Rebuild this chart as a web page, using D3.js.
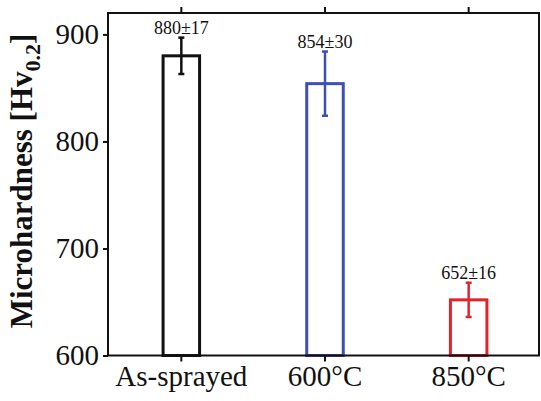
<!DOCTYPE html>
<meta charset="utf-8">
<style>
html, body {
  margin: 0;
  background: #fff;
}

text {
  font-family: "Liberation Serif", "Times New Roman", serif;
}

.axis path {
  display: none;
}

.axis line {
  stroke: #111;
  stroke-width: 2px;
}

.axis text {
  font-size: 29px;
  fill: #111;
}

.frame {
  fill: none;
  stroke: #111;
  stroke-width: 2px;
}

.bar {
  fill: #fff;
  stroke-width: 3px;
}

.err {
  stroke-width: 2.5px;
}
</style>

<svg></svg>

<script src="https://d3js.org/d3.v7.min.js"></script>
<script>

// values
var categories = ['As-sprayed', '600°C', '850°C'];
var means = [880, 854, 652];
var errors = [17, 30, 16];
var yTicks = [600, 700, 800, 900];
var barColors = ['#111111', '#3d4fb3', '#e3232b'];

var width = 541, height = 401;
var plot = {left: 108, right: 539, top: 13, bottom: 355.5};

var svg = d3.select('svg')
  .attr('width', width)
  .attr('height', height);

var x = d3.scaleBand()
  .domain(categories)
  .range([plot.left + 1.5, plot.right + 1.5]);

var y = d3.scaleLinear()
  .domain([600, 920])
  .range([plot.bottom, plot.top]);

var rows = categories.map(function (c, i) {
  return {cat: c, mean: means[i], err: errors[i], color: barColors[i]};
});

var barW = 36.5;
var capW = 6;

// bars
svg.append('g')
  .selectAll('rect').data(rows)
  .enter().append('rect')
  .attr('class', 'bar')
  .attr('x', function (d) { return x(d.cat) + x.bandwidth() / 2 - barW / 2; })
  .attr('y', function (d) { return y(d.mean); })
  .attr('width', barW)
  .attr('height', function (d) { return y(600) - y(d.mean); })
  .attr('stroke', function (d) { return d.color; });

// error bars
var eb = svg.append('g')
  .selectAll('g').data(rows)
  .enter().append('g')
  .attr('class', 'err')
  .attr('stroke', function (d) { return d.color; });

eb.append('line')
  .attr('x1', function (d) { return x(d.cat) + x.bandwidth() / 2; })
  .attr('x2', function (d) { return x(d.cat) + x.bandwidth() / 2; })
  .attr('y1', function (d) { return y(d.mean - d.err); })
  .attr('y2', function (d) { return y(d.mean + d.err); });

[-1, 1].forEach(function (s) {
  eb.append('line')
    .attr('x1', function (d) { return x(d.cat) + x.bandwidth() / 2 - capW / 2; })
    .attr('x2', function (d) { return x(d.cat) + x.bandwidth() / 2 + capW / 2; })
    .attr('y1', function (d) { return y(d.mean + s * d.err); })
    .attr('y2', function (d) { return y(d.mean + s * d.err); });
});

// value labels
svg.append('g')
  .selectAll('text').data(rows)
  .enter().append('text')
  .attr('x', function (d) { return x(d.cat) + x.bandwidth() / 2; })
  .attr('y', function (d) { return y(d.mean + d.err) - 3.5; })
  .attr('text-anchor', 'middle')
  .style('font-size', '18px')
  .attr('fill', '#111')
  .text(function (d) { return d.mean + '±' + d.err; });

// frame
svg.append('rect')
  .attr('class', 'frame')
  .attr('x', plot.left)
  .attr('y', plot.top)
  .attr('width', plot.right - plot.left)
  .attr('height', plot.bottom - plot.top);

// axes
svg.append('g')
  .attr('class', 'axis')
  .attr('transform', 'translate(' + plot.left + ',0)')
  .call(d3.axisLeft(y).tickValues(yTicks).tickSize(5).tickPadding(4));

svg.append('g')
  .attr('class', 'axis')
  .attr('transform', 'translate(0,' + plot.bottom + ')')
  .call(d3.axisBottom(x).tickSize(6).tickPadding(4));

svg.append('g')
  .attr('class', 'axis')
  .attr('transform', 'translate(0,' + plot.top + ')')
  .call(d3.axisTop(x).tickSize(6).tickFormat(''));

// y title with subscript
var title = svg.append('text')
  .attr('transform', 'translate(32,181) rotate(-90)')
  .attr('text-anchor', 'middle')
  .style('font-size', '31px')
  .style('font-weight', 'bold')
  .attr('fill', '#111');
title.append('tspan').text('Microhardness [Hv');
title.append('tspan').attr('dy', 8).style('font-size', '22px').text('0.2');
title.append('tspan').attr('dy', -8).text(']');
</script>
